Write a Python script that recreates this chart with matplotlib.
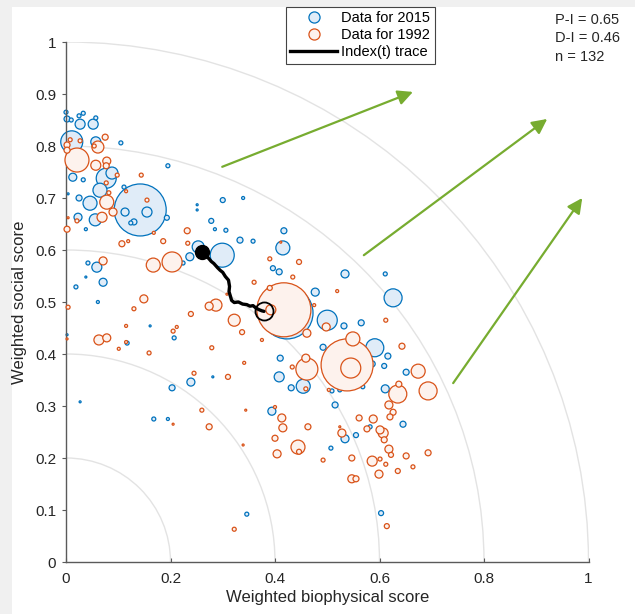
import matplotlib
matplotlib.use('Agg')
import matplotlib.pyplot as plt
from matplotlib.patches import Arc, Rectangle
from matplotlib.lines import Line2D
import numpy as np

plt.rcParams['font.family'] = ['Liberation Sans', 'DejaVu Sans']

# ---- data: x, y, marker radius (px) ----
x2015 = [0.000, 0.002, 0.010, 0.025, 0.033, 0.027, 0.052, 0.057, 0.011, 0.057,
         0.105, 0.195, 0.013, 0.033, 0.077, 0.088, 0.065, 0.111, 0.046, 0.025,
         0.056, 0.023, 0.038, 0.004, 0.142, 0.113, 0.155, 0.130, 0.124, 0.193,
         0.251, 0.251, 0.300, 0.278, 0.285, 0.306, 0.339, 0.253, 0.237, 0.299,
         0.333, 0.358, 0.415, 0.417, 0.224, 0.042, 0.059, 0.071, 0.038, 0.019,
         0.061, 0.161, 0.207, 0.117, 0.281, 0.239, 0.203, 0.027, 0.002, 0.168,
         0.195, 0.396, 0.408, 0.534, 0.611, 0.477, 0.626, 0.423, 0.500, 0.532,
         0.565, 0.492, 0.591, 0.616, 0.609, 0.586, 0.410, 0.408, 0.431, 0.454,
         0.509, 0.524, 0.568, 0.611, 0.651, 0.645, 0.582, 0.555, 0.534, 0.515,
         0.507, 0.394, 0.603, 0.346]
y2015 = [0.865, 0.852, 0.850, 0.858, 0.863, 0.842, 0.842, 0.854, 0.808, 0.808,
         0.806, 0.762, 0.740, 0.735, 0.738, 0.748, 0.715, 0.721, 0.690, 0.700,
         0.658, 0.663, 0.640, 0.708, 0.677, 0.673, 0.673, 0.654, 0.652, 0.662,
         0.687, 0.677, 0.696, 0.656, 0.640, 0.638, 0.700, 0.606, 0.587, 0.590,
         0.619, 0.617, 0.604, 0.637, 0.575, 0.575, 0.567, 0.538, 0.548, 0.529,
         0.500, 0.454, 0.431, 0.421, 0.356, 0.346, 0.335, 0.308, 0.437, 0.275,
         0.275, 0.565, 0.558, 0.554, 0.554, 0.519, 0.508, 0.479, 0.465, 0.454,
         0.460, 0.413, 0.412, 0.396, 0.377, 0.381, 0.392, 0.356, 0.335, 0.338,
         0.329, 0.331, 0.337, 0.333, 0.365, 0.265, 0.260, 0.244, 0.237, 0.302,
         0.219, 0.290, 0.094, 0.092]
r2015 = [2, 3, 2, 2, 2, 5, 5, 2, 11, 5,
         2, 2, 4, 2, 10, 6, 7, 2, 7, 3,
         6, 4, 1.5, 1, 26, 4, 5, 3, 2, 2.5,
         1, 1, 2.5, 2.5, 1.5, 2, 1.5, 6, 4, 12,
         3, 2, 7, 3, 2, 2, 5, 4, 1, 2,
         1.5, 1, 2, 2, 1, 4, 3, 1, 1, 2,
         1.5, 2.5, 3, 4, 2, 4, 9, 26, 10, 3,
         3, 3, 9, 3, 2.5, 3, 3, 5, 3, 7,
         2, 2, 2, 4, 3, 3, 2, 2.5, 4, 3,
         2, 4, 2.5, 2]

x1992 = [0.008, 0.027, 0.002, 0.002, 0.021, 0.061, 0.054, 0.075, 0.057, 0.078,
         0.077, 0.098, 0.144, 0.077, 0.082, 0.078, 0.090, 0.069, 0.115, 0.155,
         0.021, 0.004, 0.002, 0.232, 0.168, 0.186, 0.107, 0.119, 0.233, 0.167,
         0.203, 0.071, 0.004, 0.149, 0.130, 0.274, 0.287, 0.239, 0.322, 0.337,
         0.308, 0.115, 0.212, 0.205, 0.063, 0.078, 0.115, 0.101, 0.159, 0.279,
         0.341, 0.245, 0.310, 0.002, 0.260, 0.274, 0.344, 0.205, 0.266, 0.411,
         0.390, 0.446, 0.360, 0.434, 0.519, 0.475, 0.417, 0.390, 0.392, 0.612,
         0.498, 0.461, 0.375, 0.549, 0.643, 0.459, 0.461, 0.459, 0.433, 0.538,
         0.545, 0.674, 0.693, 0.635, 0.637, 0.618, 0.626, 0.620, 0.588, 0.561,
         0.576, 0.601, 0.607, 0.609, 0.618, 0.622, 0.651, 0.693, 0.601, 0.612,
         0.586, 0.635, 0.664, 0.599, 0.547, 0.555, 0.547, 0.492, 0.444, 0.446,
         0.404, 0.400, 0.463, 0.415, 0.413, 0.400, 0.528, 0.524, 0.503, 0.339,
         0.322, 0.614]
y1992 = [0.812, 0.810, 0.802, 0.792, 0.773, 0.798, 0.800, 0.817, 0.763, 0.771,
         0.762, 0.744, 0.744, 0.729, 0.710, 0.692, 0.673, 0.663, 0.713, 0.696,
         0.656, 0.662, 0.640, 0.637, 0.633, 0.617, 0.612, 0.617, 0.613, 0.571,
         0.577, 0.579, 0.490, 0.506, 0.487, 0.492, 0.494, 0.477, 0.465, 0.442,
         0.515, 0.454, 0.452, 0.444, 0.427, 0.431, 0.423, 0.410, 0.402, 0.412,
         0.383, 0.363, 0.356, 0.429, 0.292, 0.260, 0.292, 0.265, 0.592, 0.615,
         0.583, 0.577, 0.538, 0.548, 0.521, 0.494, 0.485, 0.527, 0.485, 0.465,
         0.452, 0.440, 0.427, 0.429, 0.415, 0.392, 0.371, 0.333, 0.375, 0.379,
         0.373, 0.367, 0.329, 0.323, 0.342, 0.302, 0.288, 0.279, 0.275, 0.277,
         0.256, 0.254, 0.248, 0.235, 0.217, 0.206, 0.204, 0.210, 0.198, 0.188,
         0.194, 0.175, 0.183, 0.169, 0.160, 0.160, 0.200, 0.196, 0.221, 0.212,
         0.208, 0.238, 0.260, 0.258, 0.277, 0.298, 0.248, 0.260, 0.331, 0.225,
         0.063, 0.069]
r1992 = [2, 2, 3, 3, 12, 6, 2, 3, 5, 4,
         3, 2, 2, 2, 2, 7, 4, 5, 1.5, 2,
         2, 1, 3, 3, 1.5, 2.5, 3, 1.5, 2, 7,
         10, 4, 2, 4, 2, 4, 6, 2.5, 6, 2.5,
         1, 1.5, 1.5, 2, 5, 4, 1.5, 1.5, 2, 2,
         1.5, 2, 2.5, 1, 2, 3, 1, 1, 1, 1,
         2, 2.5, 2, 2, 1.5, 1.5, 27, 2.5, 5, 2,
         4, 4, 1.5, 7, 3, 4, 11, 2, 2, 26,
         10, 7, 9, 9, 3, 4, 3, 3, 4, 3,
         3, 4, 5, 3, 4, 2.5, 3, 3, 2, 2,
         5, 2.5, 2, 4, 4, 3, 3, 2, 7, 2.5,
         4, 3, 3, 4, 4, 1.5, 4, 1, 1.5, 1,
         2, 2.5]

# index(t) trace from 1992 to 2015
trace_x = [0.261, 0.266, 0.272, 0.278, 0.283, 0.290, 0.295, 0.300, 0.305, 0.311,
           0.313, 0.312, 0.315, 0.317, 0.322, 0.330, 0.338, 0.346, 0.352, 0.358,
           0.364, 0.370, 0.375, 0.379]
trace_y = [0.597, 0.590, 0.585, 0.578, 0.574, 0.566, 0.561, 0.557, 0.549, 0.542,
           0.530, 0.520, 0.510, 0.503, 0.499, 0.500, 0.496, 0.495, 0.492, 0.493,
           0.488, 0.485, 0.483, 0.482]

arrow_start = [(0.299, 0.760), (0.570, 0.590), (0.741, 0.344)]
arrow_end = [(0.664, 0.904), (0.921, 0.852), (0.988, 0.700)]

arc_radii = [0.2, 0.4, 0.6, 0.8, 1.0]
xticks = [0, 0.2, 0.4, 0.6, 0.8, 1]
xticklabels = ['0', '0.2', '0.4', '0.6', '0.8', '1']
yticks = [0, 0.1, 0.2, 0.3, 0.4, 0.5, 0.6, 0.7, 0.8, 0.9, 1]
yticklabels = ['0', '0.1', '0.2', '0.3', '0.4', '0.5', '0.6', '0.7', '0.8', '0.9', '1']
stats = ['P-I = 0.65', 'D-I = 0.46', 'n = 132']

blue = '#0072BD'
orange = '#D95319'
blue_face = '#e0ecf8'
orange_face = '#fdf2ed'
green = '#77AC30'


def msize(r):
    # radius in px -> scatter area in pt^2 (dpi 100)
    return (2 * np.array(r) * 0.72) ** 2


def draw_series(ax, xs, ys, rs, face, edge, z):
    # biggest first so the small circles stay visible on top
    order = np.argsort(-np.array(rs), kind='stable')
    xs = np.array(xs)[order]
    ys = np.array(ys)[order]
    rs = np.array(rs)[order]
    ax.scatter(xs, ys, s=msize(rs), facecolors=face, edgecolors=edge,
               linewidths=0.9, clip_on=False, zorder=z)


fig = plt.figure(figsize=(6.35, 6.14), dpi=100, facecolor='white')
# grey window strips at the left and top of the cropped figure
fig.patches.append(Rectangle((0, 0), 12 / 635, 1, transform=fig.transFigure,
                             facecolor='#f0f0f0', edgecolor='none', zorder=-10))
fig.patches.append(Rectangle((0, 1 - 7 / 614), 1, 7 / 614, transform=fig.transFigure,
                             facecolor='#f0f0f0', edgecolor='none', zorder=-10))

ax = fig.add_axes([66 / 635, 52 / 614, 522.5 / 635, 520 / 614])
ax.set_xlim(0, 1)
ax.set_ylim(0, 1)

for r in arc_radii:
    ax.add_patch(Arc((0, 0), 2 * r, 2 * r, theta1=0, theta2=90,
                     color='#e3e3e3', lw=1.0, zorder=0))

for a, b in zip(arrow_start, arrow_end):
    ax.annotate('', xy=b, xytext=a,
                arrowprops=dict(arrowstyle='-|>,head_length=0.6,head_width=0.3',
                                color=green, lw=1.6, mutation_scale=15,
                                shrinkA=0, shrinkB=0))

draw_series(ax, x2015, y2015, r2015, blue_face, blue, 2)
draw_series(ax, x1992, y1992, r1992, orange_face, orange, 3)

ax.plot(trace_x, trace_y, color='black', lw=2.4, zorder=4, solid_capstyle='round')
ax.plot(trace_x[0], trace_y[0], 'o', color='black', ms=10, zorder=5)
ax.plot(trace_x[-1], trace_y[-1], 'o', mfc='none', mec='black', mew=1.3, ms=13, zorder=5)

for s in ['top', 'right']:
    ax.spines[s].set_visible(False)
for s in ['left', 'bottom']:
    ax.spines[s].set_color('#5a5a5a')
    ax.spines[s].set_linewidth(1.0)

ax.set_xticks(xticks)
ax.set_xticklabels(xticklabels)
ax.set_yticks(yticks)
ax.set_yticklabels(yticklabels)
ax.tick_params(length=3, width=0.8, color='#5a5a5a',
               labelsize=11, labelcolor='#262626', pad=4)
ax.tick_params(axis='y', direction='out')
ax.tick_params(axis='x', direction='in', pad=7)
ax.set_xlabel('Weighted biophysical score', fontsize=12, color='#262626', labelpad=3)
ax.set_ylabel('Weighted social score', fontsize=12, color='#262626', labelpad=6)

handles = [Line2D([], [], ls='none', marker='o', ms=8, mfc=blue_face,
                  mec=blue, mew=0.9),
           Line2D([], [], ls='none', marker='o', ms=8, mfc=orange_face,
                  mec=orange, mew=0.9),
           Line2D([], [], color='black', lw=2.4)]
leg = fig.legend(handles, ['Data for 2015', 'Data for 1992', 'Index(t) trace'],
                 loc='upper left', bbox_to_anchor=(286 / 635, 1 - 7 / 614),
                 fontsize=10.5, frameon=True, fancybox=False, framealpha=1,
                 edgecolor='#444444', handlelength=3.2, handletextpad=0.3,
                 labelspacing=0.2, borderpad=0.3, borderaxespad=0)
leg.get_frame().set_linewidth(0.8)

for i, t in enumerate(stats):
    fig.text(555 / 635, 1 - (20 + 18.5 * i) / 614, t, fontsize=10.5,
             color='#262626', va='center', ha='left')

fig.savefig('out.png', dpi=100, facecolor=fig.get_facecolor())
